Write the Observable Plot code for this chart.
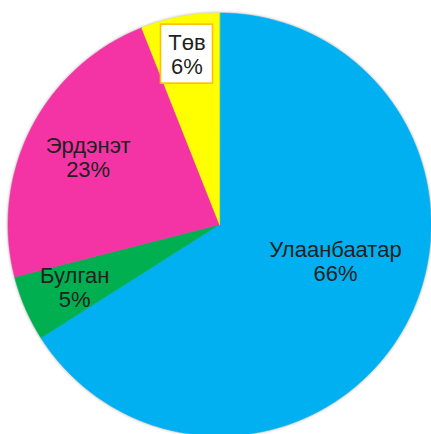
<!DOCTYPE html>
<html><head><meta charset="utf-8">
<script src="https://cdn.jsdelivr.net/npm/d3@7"></script>
<script src="https://cdn.jsdelivr.net/npm/@observablehq/plot@0.6"></script>
<style>
html,body{margin:0;padding:0;background:#fff;overflow:hidden}
#chart svg g[aria-label="line"]{filter:drop-shadow(0 0 1.5px rgba(0,0,0,0.35))}
</style></head><body><div id="chart"></div>
<script>
// data
const categories = ["Улаанбаатар", "Булган", "Эрдэнэт", "Төв"];
const values = [66, 5, 23, 6];
const colors = ["#00B0F0", "#00B050", "#F434A4", "#FFFF00"];

// layout of labels (fraction of radius, angular shift in degrees, boxed)
const labelRadius = [0.576, 0.746, 0.697, 0.82];
const labelShift = [-11, 0, 0, 0];
const labelBoxed = [false, false, false, true];

const R = 211.5; // pie radius in px
const arcs = d3.pie().sort(null).value(d => d)(values);

const slicePts = [];
arcs.forEach((a, i) => {
  slicePts.push({name: categories[i], x: 0, y: 0});
  const n = Math.max(2, Math.ceil((a.endAngle - a.startAngle) / (Math.PI / 360)));
  for (let k = 0; k <= n; k++) {
    const t = a.startAngle + (a.endAngle - a.startAngle) * k / n;
    slicePts.push({name: categories[i], x: Math.sin(t), y: Math.cos(t)});
  }
});

const labels = arcs.map((a, i) => {
  const t = (a.startAngle + a.endAngle) / 2 + labelShift[i] * Math.PI / 180;
  return {
    name: categories[i], value: values[i], boxed: labelBoxed[i],
    x: labelRadius[i] * Math.sin(t), y: labelRadius[i] * Math.cos(t)
  };
});
const boxHW = 26 / R, boxHH = 29.5 / R;
const boxes = labels.filter(d => d.boxed);

const plot = Plot.plot({
  width: 431,
  height: 436,
  marginLeft: 7.5, marginRight: 0.5, marginTop: 12.5, marginBottom: 0.5,
  x: {domain: [-1, 1], axis: null},
  y: {domain: [-1, 1], axis: null},
  color: {domain: categories, range: colors},
  style: {background: "#fff", fontFamily: "'Liberation Sans', Arial, sans-serif"},
  marks: [
    Plot.line(slicePts, {x: "x", y: "y", z: "name", fill: "name", stroke: "name", strokeWidth: 0.5, curve: "linear-closed"}),
    Plot.rect(boxes, {x1: d => d.x - boxHW, x2: d => d.x + boxHW, y1: d => d.y - boxHH, y2: d => d.y + boxHH, fill: "#fff", stroke: "#FFC000", strokeWidth: 1.6}),
    Plot.text(labels, {x: "x", y: "y", text: d => d.name + "\n" + d.value + "%", fontSize: 22, lineHeight: 1.09, fill: "#231F20", fontFamily: "'Liberation Sans', Arial, sans-serif"})
  ]
});
document.getElementById("chart").appendChild(plot);
</script></body></html>
